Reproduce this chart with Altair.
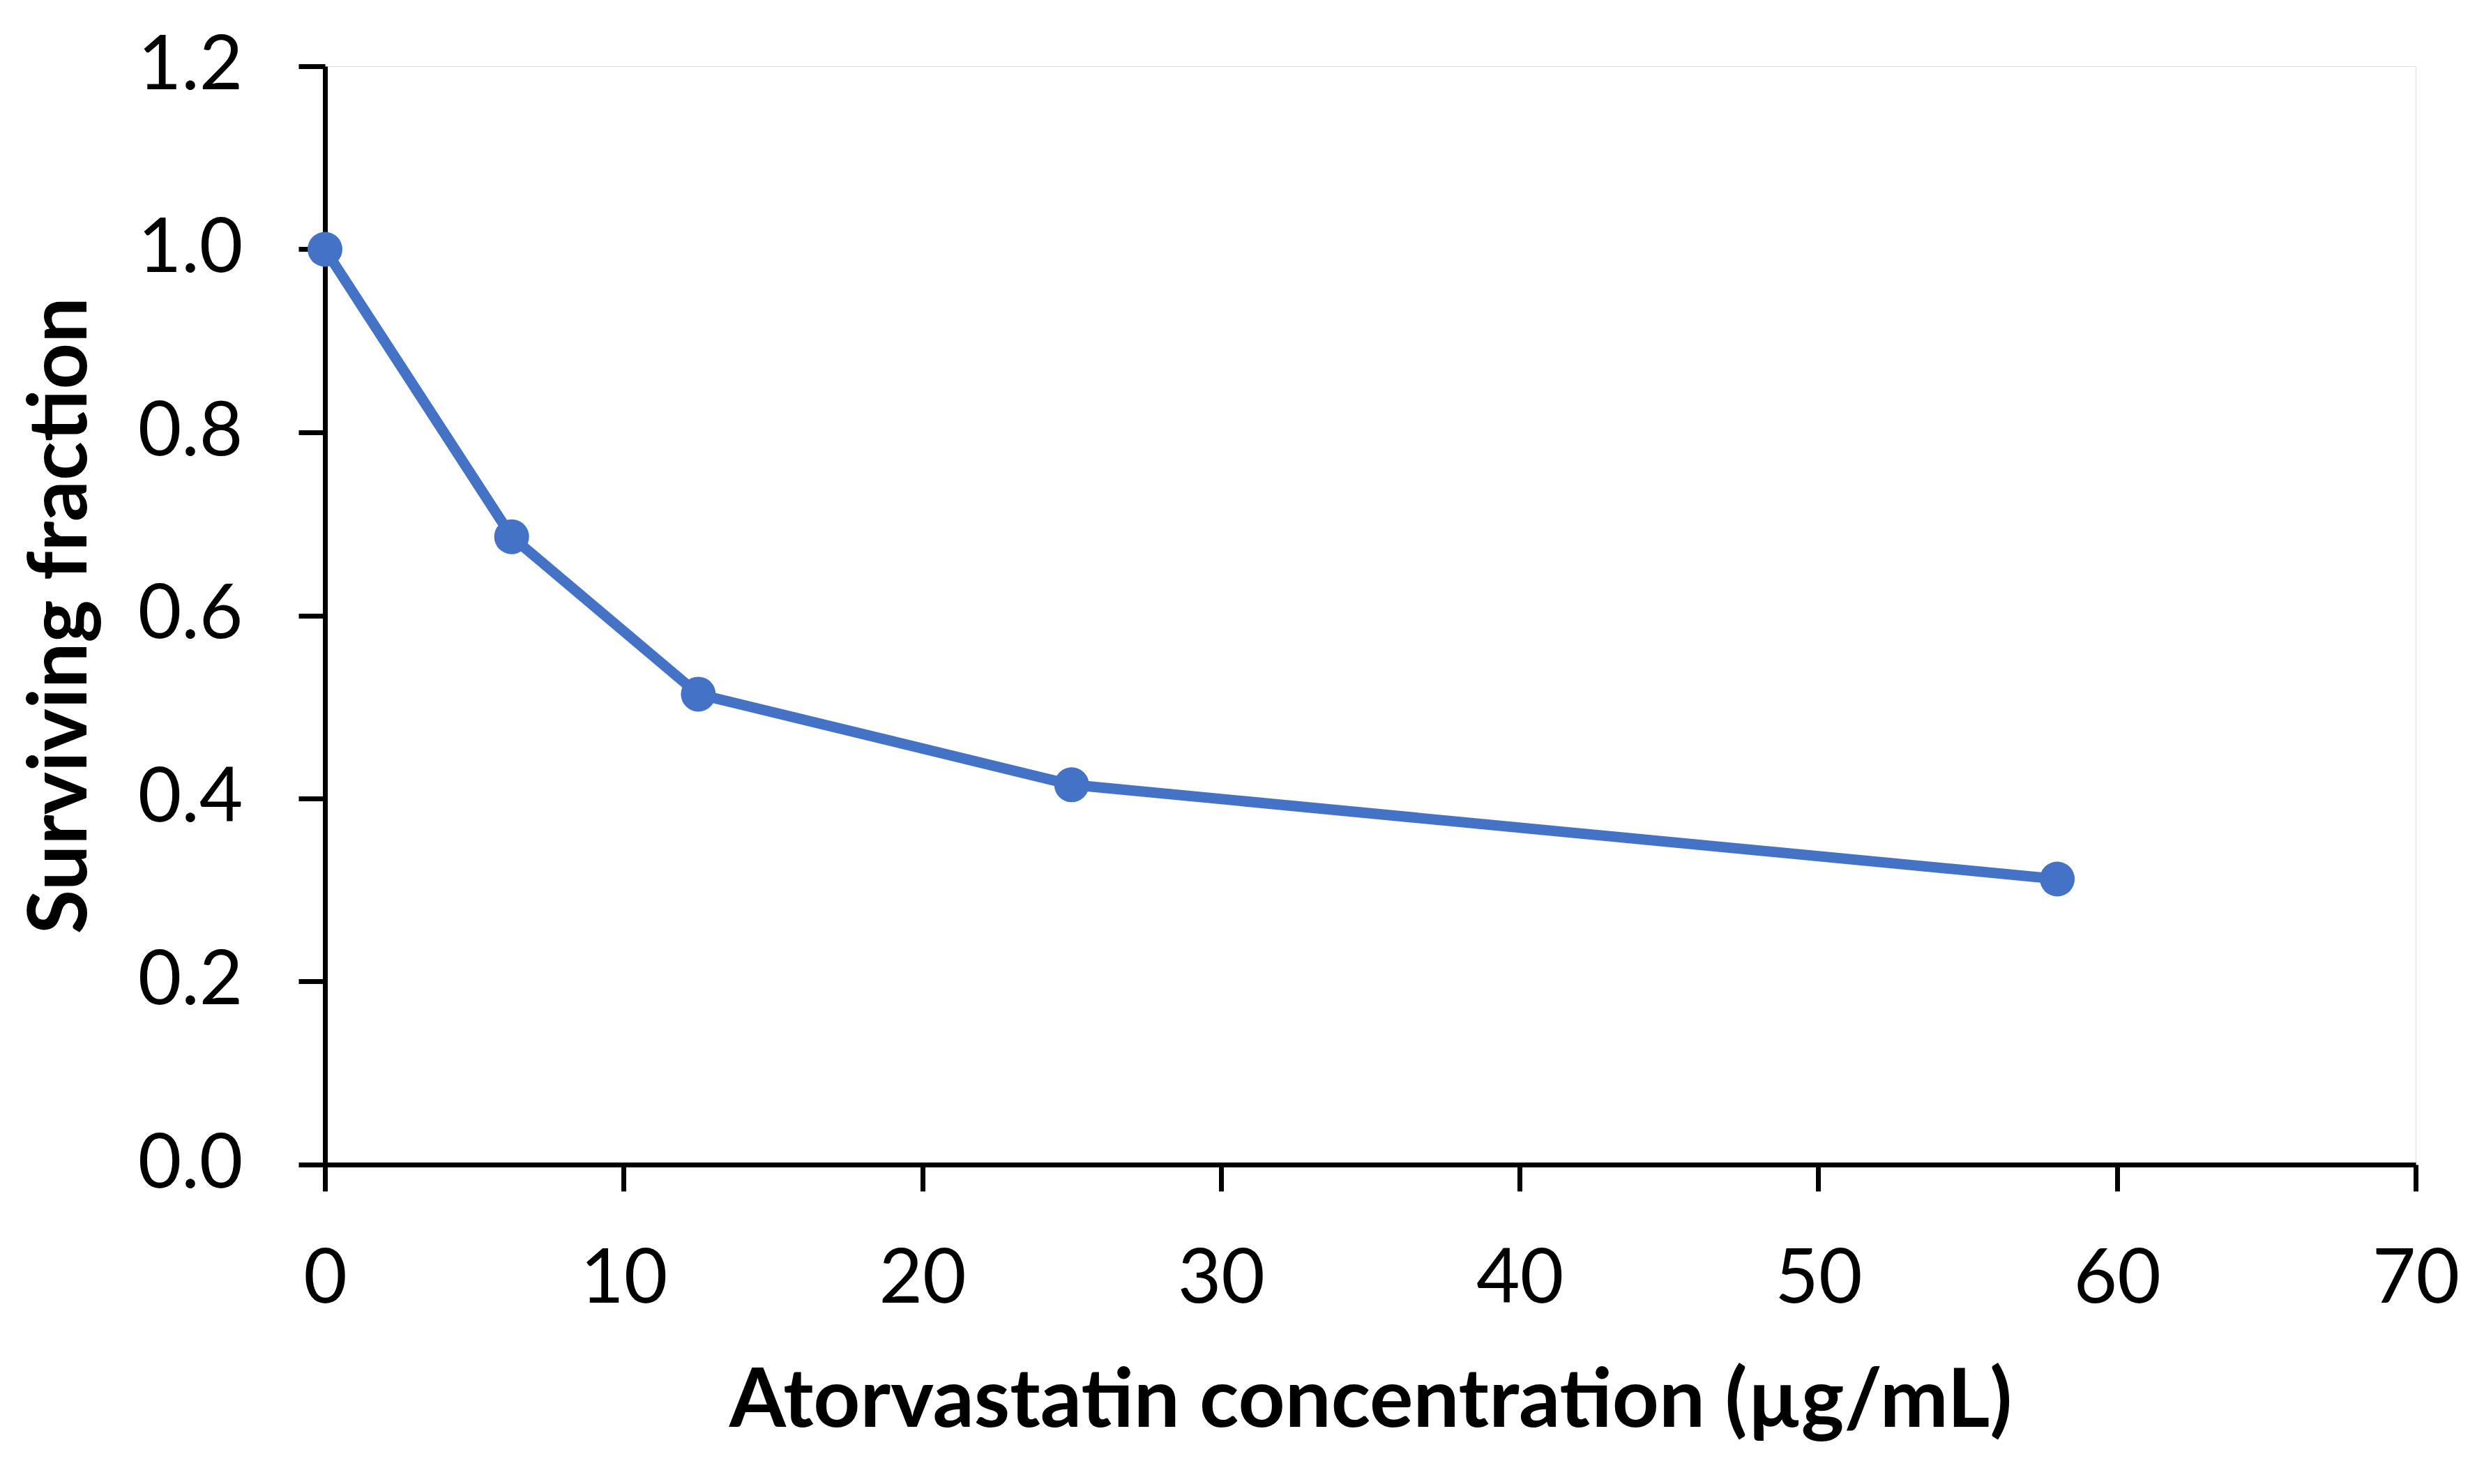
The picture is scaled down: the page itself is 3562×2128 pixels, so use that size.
import altair as alt
import pandas as pd

# Data
concentration = [0, 6.25, 12.5, 25, 58]
surviving = [1.0, 0.686, 0.514, 0.415, 0.312]

x_ticks = [0, 10, 20, 30, 40, 50, 60, 70]
y_ticks = [0.0, 0.2, 0.4, 0.6, 0.8, 1.0, 1.2]

df = pd.DataFrame({"conc": concentration, "sf": surviving})

FONT = "Lato"
BLUE = "#4472C4"
PLOT_W = 2998
PLOT_H = 1575

base = alt.Chart(df).encode(
    x=alt.X(
        "conc:Q",
        scale=alt.Scale(domain=[0, 70], nice=False, zero=False),
        axis=alt.Axis(
            values=x_ticks,
            format="d",
            title="Atorvastatin concentration (µg/mL)",
            titleFont=FONT,
            titleFontSize=117,
            titleFontWeight="bold",
            titleColor="black",
            titleX=PLOT_W / 2,
            titleY=340,
            titleAlign="center",
            titleBaseline="middle",
            labelFont=FONT,
            labelFontSize=108,
            labelColor="black",
            labelPadding=74,
            tickSize=38,
            tickWidth=7,
            tickColor="black",
            domainWidth=7,
            domainColor="black",
            grid=False,
            labelFlush=False,
            labelOverlap=False,
        ),
    ),
    y=alt.Y(
        "sf:Q",
        scale=alt.Scale(domain=[0, 1.2], nice=False, zero=False),
        axis=alt.Axis(
            values=y_ticks,
            format=".1f",
            title="Surviving fraction",
            titleFont=FONT,
            titleFontSize=116,
            titleFontWeight="bold",
            titleColor="black",
            titleAngle=270,
            titleX=-378,
            titleY=PLOT_H / 2,
            titleAlign="center",
            titleBaseline="middle",
            labelFont=FONT,
            labelFontSize=108,
            labelColor="black",
            labelPadding=80,
            tickSize=38,
            tickWidth=7,
            tickColor="black",
            domainWidth=7,
            domainColor="black",
            grid=False,
            labelFlush=False,
            labelOverlap=False,
        ),
    ),
)

line = base.mark_line(color=BLUE, strokeWidth=15)
points = base.mark_point(filled=True, shape="circle", color=BLUE, size=2500, opacity=1)

chart = (
    alt.layer(line, points)
    .properties(
        width=PLOT_W,
        height=PLOT_H,
        autosize=alt.AutoSizeParams(type="none"),
        padding={"left": 458, "top": 87, "right": 80, "bottom": 440},
    )
    .configure_view(stroke="transparent", strokeWidth=0)
    .configure(background="white")
)

chart.save("out.html", embed_options={"renderer": "svg", "actions": False})
